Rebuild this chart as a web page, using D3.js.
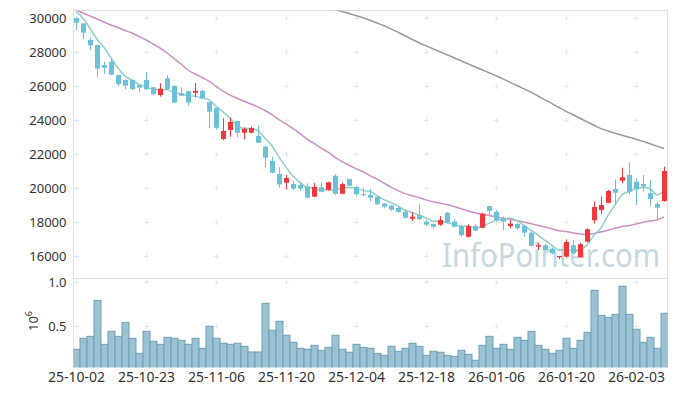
<html>
  <head>
    <meta charset="utf-8">
    <script src="https://d3js.org/d3.v7.min.js"></script>
    <style>
      body { margin: 0; background: #fff; }
      text { font-family: "Noto Sans", sans-serif; fill: #333; }
    </style>
  </head>
  <body>
    <script>
      // trading days (yy-mm-dd)
      var dates = ["25-10-02","25-10-10","25-10-13","25-10-14","25-10-15","25-10-16","25-10-17","25-10-20","25-10-21","25-10-22",
        "25-10-23","25-10-24","25-10-27","25-10-28","25-10-29","25-10-30","25-10-31","25-11-03","25-11-04","25-11-05",
        "25-11-06","25-11-07","25-11-10","25-11-11","25-11-12","25-11-13","25-11-14","25-11-17","25-11-18","25-11-19",
        "25-11-20","25-11-21","25-11-24","25-11-25","25-11-26","25-11-27","25-11-28","25-12-01","25-12-02","25-12-03",
        "25-12-04","25-12-05","25-12-08","25-12-09","25-12-10","25-12-11","25-12-12","25-12-15","25-12-16","25-12-17",
        "25-12-18","25-12-19","25-12-22","25-12-23","25-12-24","25-12-26","25-12-29","25-12-30","26-01-02","26-01-05",
        "26-01-06","26-01-07","26-01-08","26-01-09","26-01-12","26-01-13","26-01-14","26-01-15","26-01-16","26-01-19",
        "26-01-20","26-01-21","26-01-22","26-01-23","26-01-26","26-01-27","26-01-28","26-01-29","26-01-30","26-02-02",
        "26-02-03","26-02-04","26-02-05","26-02-06","26-02-09"];

      var open = [30020,29700,28720,28430,27250,27450,26660,26370,26370,26080,
        26370,25940,25490,26470,26020,25590,25720,25620,25740,25080,
        24740,22900,23430,23960,23270,23270,23080,22450,21610,20840,
        20330,20250,20190,20120,19510,20060,19900,20740,19680,20550,
        20080,19650,19610,19510,19100,18980,18840,18620,18210,18430,
        18040,17900,17860,18560,18040,17780,17150,17780,17680,18960,
        18620,18240,17780,17900,17780,17390,16570,16650,16450,15940,
        15980,16650,15940,16860,18120,18720,19150,19960,20450,20780,
        20390,20250,19710,19080,19250];
      var high = [30050,29720,28880,28450,27450,27650,26680,26400,26410,26100,
        26840,25960,26180,26650,26060,25940,25740,26190,25780,25100,
        24760,24120,24150,23980,23590,23630,23710,22470,21860,21230,
        20780,20450,20350,20300,20300,20350,20390,20820,20330,20560,
        20100,20040,19960,19530,19140,19020,18920,18720,18600,19060,
        18130,17940,18370,18600,18180,17840,17880,17900,18560,18960,
        18720,18330,18130,17980,17840,17450,16800,16730,16510,16020,
        17000,16960,16800,17650,19220,19510,19900,20530,21210,21530,
        20590,20780,20490,19210,21270];
      var low = [29310,28760,28140,26530,26720,26650,26020,25820,25780,25650,
        25780,25470,25390,25780,25040,25430,24860,25350,25240,23530,
        23430,22840,23040,23000,22880,23240,22680,21230,20880,20030,
        19960,19900,19840,19410,19470,19780,19860,19600,19650,20140,
        19530,19530,19250,19000,18820,18680,18560,18230,18080,18130,
        17780,17650,17780,17940,17710,17150,17100,17510,17650,18330,
        18040,17550,17650,17550,17150,16610,16370,16310,16120,15820,
        15940,16120,15940,16820,17940,18490,19120,19020,20290,19660,
        19020,19800,18980,18190,19210];
      var close = [29740,29150,28410,27040,27090,26680,26140,26040,25840,25920,
        25820,25530,25860,25840,25040,25450,25040,25740,25290,24510,
        23560,23370,23900,23270,23490,23550,22680,21800,20920,20230,
        20610,19980,19980,19450,20080,19800,20350,19680,20250,20150,
        19650,19590,19450,19060,18920,18740,18610,18270,18330,18190,
        17860,17740,18130,17980,17740,17250,17780,17510,18490,18670,
        18130,18040,17920,17650,17390,16610,16650,16370,16180,16020,
        16840,16180,16710,17590,18900,19020,19840,19740,20650,19800,
        19940,20100,19370,18860,21020];

      // moving averages as drawn
      var ma5 = [30388,30000,29412,28765,28286,27674,27072,26598,26358,26124,
        25952,25830,25794,25794,25618,25544,25446,25422,25312,25206,
        24828,24494,24126,23722,23518,23516,23378,22958,22488,21836,
        21248,20708,20344,20050,20020,19858,19932,19872,20032,20046,
        20016,19864,19818,19580,19334,19152,18956,18720,18574,18428,
        18252,18078,18050,17980,17890,17768,17776,17652,17754,17940,
        18116,18168,18250,18082,17826,17522,17244,16934,16640,16366,
        16412,16318,16386,16668,17244,17680,18412,19018,19630,19810,
        19994,20046,19972,19614,19858];
      var ma20 = [30500,30312,30135,29959,29782,29606,29459,29282,29135,28929,
        28724,28488,28253,27959,27635,27312,26959,26724,26518,26308,
        26000,25711,25485,25297,25117,24960,24787,24575,24329,24045,
        23784,23507,23213,22893,22645,22363,22128,21825,21573,21355,
        21160,20971,20748,20538,20309,20069,19865,19689,19559,19457,
        19320,19208,19115,19042,18925,18797,18669,18560,18472,18398,
        18322,18245,18168,18098,18021,17915,17817,17722,17614,17506,
        17455,17377,17306,17286,17344,17433,17536,17647,17755,17812,
        17902,18005,18078,18141,18322];
      var ma60 = [null,null,null,null,null,null,null,null,null,null,
        null,null,null,null,null,null,null,null,null,null,
        null,null,null,null,null,null,null,null,null,null,
        null,null,null,null,null,30753,30635,30518,30400,30282,
        30165,30029,29882,29724,29565,29382,29182,28976,28765,28559,
        28382,28206,28035,27859,27682,27500,27324,27147,26976,26800,
        26624,26435,26235,26047,25847,25653,25429,25206,24982,24753,
        24529,24329,24118,23912,23706,23512,23371,23241,23118,23000,
        22888,22759,22618,22482,22341];

      // volume, millions of shares
      var volume = [0.239,0.364,0.386,0.795,0.295,0.443,0.386,0.545,0.364,0.193,
        0.443,0.330,0.295,0.375,0.364,0.341,0.295,0.364,0.250,0.500,
        0.364,0.307,0.295,0.307,0.273,0.208,0.208,0.761,0.455,0.557,
        0.398,0.318,0.250,0.239,0.284,0.227,0.261,0.398,0.239,0.205,
        0.295,0.261,0.250,0.193,0.170,0.273,0.216,0.250,0.307,0.273,
        0.170,0.216,0.205,0.170,0.159,0.227,0.182,0.114,0.284,0.386,
        0.250,0.295,0.239,0.375,0.341,0.443,0.284,0.239,0.193,0.227,
        0.364,0.250,0.341,0.432,0.909,0.625,0.602,0.636,0.955,0.636,
        0.466,0.318,0.375,0.250,0.648];

      var tickDates = ["25-10-02","25-10-23","25-11-06","25-11-20","25-12-04","25-12-18","26-01-06","26-01-20","26-02-03"];
      var priceTicks = [16000,18000,20000,22000,24000,26000,28000,30000];
      var volTicks = [0.5, 1.0];

      var w = 677, h = 396;
      var left = 73.5, right = 667.5;
      var pTop = 10.5, pBottom = 278.5, vBottom = 367.5;

      var svg = d3.select("body").append("svg")
        .attr("width", w)
        .attr("height", h);

      var x = d3.scalePoint().domain(dates).range([76, 664]);
      var y = d3.scaleLinear().domain([16000, 30000]).range([256.3, 18.3]);
      var yv = d3.scaleLinear().domain([0, 1]).range([370.3, 282.3]);

      var defs = svg.append("defs");
      defs.append("clipPath").attr("id", "clipP").append("rect")
        .attr("x", left).attr("y", pTop).attr("width", right - left).attr("height", pBottom - pTop);
      defs.append("clipPath").attr("id", "clipV").append("rect")
        .attr("x", left).attr("y", pBottom).attr("width", right - left).attr("height", vBottom - pBottom);

      // frame
      var frameColor = "#e2e2e2";
      svg.append("line").attr("x1", left).attr("x2", right).attr("y1", pTop).attr("y2", pTop).attr("stroke", frameColor);
      svg.append("line").attr("x1", left).attr("x2", right).attr("y1", pBottom).attr("y2", pBottom).attr("stroke", frameColor);
      svg.append("line").attr("x1", left).attr("x2", left).attr("y1", pTop).attr("y2", vBottom).attr("stroke", frameColor);
      svg.append("line").attr("x1", right).attr("x2", right).attr("y1", pTop).attr("y2", vBottom).attr("stroke", frameColor);

      // "+" grid marks
      var crossPts = [];
      tickDates.forEach(function(d){
        priceTicks.forEach(function(p){ crossPts.push([x(d), y(p)]); });
        volTicks.forEach(function(v){ crossPts.push([x(d), yv(v)]); });
      });
      var crosses = svg.append("g").attr("stroke", "#e6e6e6").attr("stroke-width", 1);
      crosses.selectAll(".ch").data(crossPts).enter().append("line")
        .attr("class", "ch")
        .attr("x1", function(d){return d[0] - 2;}).attr("x2", function(d){return d[0] + 3;})
        .attr("y1", function(d){return Math.round(d[1]) + 0.5;}).attr("y2", function(d){return Math.round(d[1]) + 0.5;});
      crosses.selectAll(".cv").data(crossPts).enter().append("line")
        .attr("class", "cv")
        .attr("x1", function(d){return d[0] + 0.5;}).attr("x2", function(d){return d[0] + 0.5;})
        .attr("y1", function(d){return Math.round(d[1]) - 2;}).attr("y2", function(d){return Math.round(d[1]) + 3;});

      // watermark
      svg.append("text")
        .attr("x", 442)
        .attr("y", 267)
        .attr("font-size", 33)
        .attr("textLength", 218)
        .attr("lengthAdjust", "spacingAndGlyphs")
        .style("fill", "#c6d7e1")
        .text("InfoPointer.com");

      // moving averages
      var price = svg.append("g").attr("clip-path", "url(#clipP)");
      function maLine(vals, color){
        var line = d3.line()
          .defined(function(d){return d != null;})
          .x(function(d, i){return x(dates[i]);})
          .y(function(d){return y(d);})
          .curve(d3.curveMonotoneX);
        price.append("path")
          .attr("d", line(vals))
          .attr("fill", "none")
          .attr("stroke", color)
          .attr("stroke-width", 1.5);
      }
      maLine(ma60, "#9a9a9a");
      maLine(ma20, "#cb90c8");
      maLine(ma5, "#8fd0c9");

      // candles
      var up = "#f0373c", down = "#6cc1d9";
      var idx = d3.range(dates.length);
      var candles = price.selectAll(".candle").data(idx).enter().append("g").attr("class", "candle");
      candles.append("line")
        .attr("x1", function(i){return x(dates[i]) + 0.5;})
        .attr("x2", function(i){return x(dates[i]) + 0.5;})
        .attr("y1", function(i){return y(high[i]);})
        .attr("y2", function(i){return y(low[i]);})
        .attr("stroke", function(i){return close[i] >= open[i] ? up : down;})
        .attr("stroke-width", 1);
      candles.append("rect")
        .attr("x", function(i){return x(dates[i]) - 2;})
        .attr("width", 5)
        .attr("y", function(i){return y(Math.max(open[i], close[i]));})
        .attr("height", function(i){return Math.max(1.2, Math.abs(y(open[i]) - y(close[i])));})
        .attr("fill", function(i){return close[i] >= open[i] ? up : down;});

      // volume bars
      var vol = svg.append("g").attr("clip-path", "url(#clipV)");
      vol.selectAll(".vbar").data(idx).enter().append("rect")
        .attr("class", "vbar")
        .attr("x", function(i){return x(dates[i]) - 3;})
        .attr("width", 7)
        .attr("y", function(i){return yv(volume[i]);})
        .attr("height", function(i){return vBottom - yv(volume[i]) + 2;})
        .attr("fill", "#9ac2d2")
        .attr("stroke", "#6e9fb5")
        .attr("stroke-width", 1);

      // axes
      var ya = svg.append("g").attr("transform", "translate(" + left + ",0)")
        .call(d3.axisLeft(y).tickValues(priceTicks).tickSize(0).tickPadding(7).tickFormat(d3.format("d")));
      ya.select(".domain").remove();
      ya.selectAll("text").attr("font-size", 13).attr("font-family", "Noto Sans").style("fill", "#333");

      var va = svg.append("g").attr("transform", "translate(" + left + ",0)")
        .call(d3.axisLeft(yv).tickValues(volTicks).tickSize(0).tickPadding(7).tickFormat(d3.format(".1f")));
      va.select(".domain").remove();
      va.selectAll("text").attr("font-size", 13).attr("font-family", "Noto Sans").style("fill", "#333");

      var xa = svg.append("g").attr("transform", "translate(0," + vBottom + ")")
        .call(d3.axisBottom(x).tickValues(tickDates).tickSize(0).tickPadding(5));
      xa.select(".domain").remove();
      xa.selectAll("text").attr("font-size", 14).attr("font-family", "Noto Sans").style("fill", "#333");

      var unit = svg.append("text")
        .attr("transform", "translate(38,321) rotate(-90)")
        .attr("text-anchor", "middle")
        .attr("font-size", 13);
      unit.append("tspan").text("10");
      unit.append("tspan").attr("font-size", 9).attr("dy", -6).text("6");
    </script>
  </body>
</html>
